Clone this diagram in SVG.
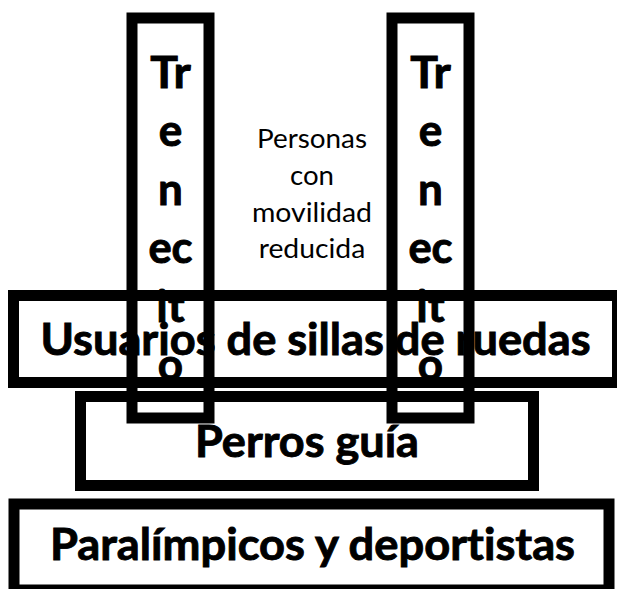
<svg xmlns="http://www.w3.org/2000/svg" width="617" height="589" viewBox="0 0 617 589">
<style>
.box{fill:none;stroke:#000;stroke-width:11}
.b{font-family:Lato,"Liberation Sans",sans-serif;font-weight:700;font-size:44px;fill:#000;stroke:#000;stroke-width:0.9;text-anchor:middle;font-variant-ligatures:none}
.r{font-family:Lato,"Liberation Sans",sans-serif;font-weight:400;font-size:27.5px;fill:#000;text-anchor:middle;font-variant-ligatures:none}
</style>
<rect x="0" y="0" width="617" height="589" fill="#fff"/>
<g id="usuarios">
<rect class="box" x="13.5" y="295.5" width="604" height="87"/>
<text class="b" x="315.5" y="355" textLength="550" lengthAdjust="spacingAndGlyphs">Usuarios de sillas de ruedas</text>
</g>
<g id="perros">
<rect class="box" x="80.5" y="396.5" width="453" height="89"/>
<text class="b" x="307" y="457" textLength="224" lengthAdjust="spacingAndGlyphs">Perros guía</text>
</g>
<g id="paralimpicos">
<rect class="box" x="14" y="504" width="595" height="86"/>
<text class="b" x="312.5" y="560" textLength="525" lengthAdjust="spacingAndGlyphs">Paralímpicos y deportistas</text>
</g>
<g id="personas">
<text class="r" x="312" y="148" textLength="110" lengthAdjust="spacingAndGlyphs">Personas</text>
<text class="r" x="312" y="185" textLength="44" lengthAdjust="spacingAndGlyphs">con</text>
<text class="r" x="312" y="221.5" textLength="120" lengthAdjust="spacingAndGlyphs">movilidad</text>
<text class="r" x="312" y="258" textLength="106.6" lengthAdjust="spacingAndGlyphs">reducida</text>
</g>
<g id="trenecito-1">
<rect class="box" x="132" y="18" width="77" height="400"/>
<text class="b" x="170.5" y="87.5" textLength="40.4" lengthAdjust="spacingAndGlyphs">Tr</text>
<text class="b" x="170.5" y="146">e</text>
<text class="b" x="170.5" y="204.5">n</text>
<text class="b" x="170.5" y="263" textLength="44.2" lengthAdjust="spacingAndGlyphs">ec</text>
<text class="b" x="170.5" y="321.5" textLength="28.5" lengthAdjust="spacingAndGlyphs">it</text>
<text class="b" x="170.5" y="380">o</text>
</g>
<g id="trenecito-2">
<rect class="box" x="392" y="18" width="77" height="400"/>
<text class="b" x="430.5" y="87.5" textLength="40.4" lengthAdjust="spacingAndGlyphs">Tr</text>
<text class="b" x="430.5" y="146">e</text>
<text class="b" x="430.5" y="204.5">n</text>
<text class="b" x="430.5" y="263" textLength="44.2" lengthAdjust="spacingAndGlyphs">ec</text>
<text class="b" x="430.5" y="321.5" textLength="28.5" lengthAdjust="spacingAndGlyphs">it</text>
<text class="b" x="430.5" y="380">o</text>
</g>
</svg>
